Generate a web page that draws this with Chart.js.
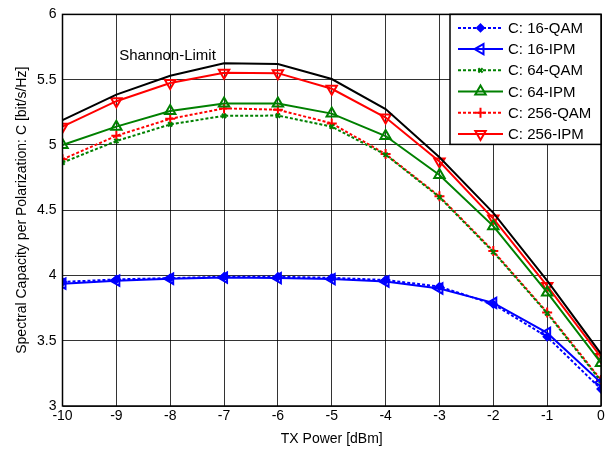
<!DOCTYPE html>
<html>
<head>
<meta charset="utf-8">
<script src="https://cdn.jsdelivr.net/npm/chart.js@4"></script>
<style>
html,body{margin:0;padding:0;background:#fff;}
#wrap{width:610px;height:450px;position:relative;}
</style>
</head>
<body>
<div id="wrap"><canvas id="c" width="610" height="450"></canvas></div>
<script>
const txPower = [-10, -9, -8, -7, -6, -5, -4, -3, -2, -1, 0];
const shannon = [5.19, 5.385, 5.53, 5.625, 5.62, 5.505, 5.275, 4.905, 4.48, 3.96, 3.40];
const qam16 = [3.95, 3.97, 3.98, 3.99, 3.99, 3.982, 3.965, 3.915, 3.78, 3.53, 3.13];
const ipm16 = [3.937, 3.96, 3.975, 3.984, 3.98, 3.972, 3.954, 3.90, 3.79, 3.56, 3.18];
const qam64 = [4.865, 5.03, 5.157, 5.223, 5.225, 5.14, 4.925, 4.60, 4.18, 3.71, 3.19];
const ipm64 = [5.0, 5.14, 5.26, 5.317, 5.317, 5.24, 5.068, 4.77, 4.378, 3.87, 3.33];
const qam256 = [4.89, 5.07, 5.2, 5.28, 5.27, 5.165, 4.93, 4.606, 4.187, 3.717, 3.2];
const ipm256 = [5.14, 5.335, 5.475, 5.553, 5.55, 5.43, 5.21, 4.873, 4.436, 3.92, 3.375];
const yTicks = [3, 3.5, 4, 4.5, 5, 5.5, 6];
const xTicks = [-10, -9, -8, -7, -6, -5, -4, -3, -2, -1, 0];
const shannonLabel = {text: 'Shannon-Limit', x: -8.05, y: 5.68};

const FONT = "'Liberation Sans', Arial, sans-serif";
const pts = arr => arr.map((v, i) => ({x: txPower[i], y: v}));

function ds(label, data, color, dashed, style, rot, filled, radius) {
  return {
    label: label, data: pts(data), borderColor: color, backgroundColor: filled ? color : 'rgba(0,0,0,0)',
    borderWidth: 2, borderDash: dashed ? [3, 2] : [], pointStyle: style, pointRotation: rot,
    pointRadius: radius, pointBorderWidth: 2, pointBorderColor: color, pointBackgroundColor: filled ? color : 'rgba(0,0,0,0)',
    tension: 0, fill: false, showInLegend: true
  };
}

const datasets = [
  {label: 'Shannon', data: pts(shannon), borderColor: '#000', borderWidth: 2, pointRadius: 0, fill: false, showInLegend: false},
  ds('C: 16-QAM', qam16, '#0000ff', true, 'rectRot', 0, true, 3.5),
  ds('C: 16-IPM', ipm16, '#0000ff', false, 'triangle', -90, false, 6),
  ds('C: 64-QAM', qam64, '#008000', true, 'crossRot', 0, false, 3),
  ds('C: 64-IPM', ipm64, '#008000', false, 'triangle', 0, false, 6),
  ds('C: 256-QAM', qam256, '#ff0000', true, 'cross', 0, false, 5),
  ds('C: 256-IPM', ipm256, '#ff0000', false, 'triangle', 180, false, 6)
];

const decor = {
  id: 'decor',
  afterDraw(chart) {
    const ctx = chart.ctx, a = chart.chartArea;
    const xs = chart.scales.x, ys = chart.scales.y;
    ctx.save();
    ctx.strokeStyle = '#000'; ctx.lineWidth = 1.5; ctx.setLineDash([]);
    ctx.strokeRect(a.left, a.top, a.right - a.left, a.bottom - a.top);
    ctx.fillStyle = '#000'; ctx.font = '15px ' + FONT;
    ctx.textAlign = 'center'; ctx.textBaseline = 'middle';
    ctx.fillText(shannonLabel.text, xs.getPixelForValue(shannonLabel.x), ys.getPixelForValue(shannonLabel.y));
    const items = chart.data.datasets.filter(d => d.showInLegend);
    const bw = 151, rowH = 21.2, bh = 130;
    const bx = a.right - bw, by = a.top;
    ctx.fillStyle = '#fff'; ctx.fillRect(bx, by, bw, bh);
    ctx.strokeStyle = '#000'; ctx.lineWidth = 1.5; ctx.strokeRect(bx, by, bw, bh);
    items.forEach((d, i) => {
      const cy = by + 13.5 + i * rowH;
      ctx.strokeStyle = d.borderColor; ctx.lineWidth = 2; ctx.setLineDash(d.borderDash);
      ctx.beginPath(); ctx.moveTo(bx + 8, cy); ctx.lineTo(bx + 53, cy); ctx.stroke();
      ctx.setLineDash([]);
      ctx.fillStyle = d.pointBackgroundColor; ctx.strokeStyle = d.borderColor;
      Chart.helpers.drawPoint(ctx, {pointStyle: d.pointStyle, radius: d.pointRadius, rotation: d.pointRotation, borderWidth: 2}, bx + 30.5, cy);
      ctx.fillStyle = '#000'; ctx.font = '15px ' + FONT; ctx.textAlign = 'left'; ctx.textBaseline = 'middle';
      ctx.fillText(d.label, bx + 58, cy + 1);
    });
    ctx.restore();
  }
};

new Chart(document.getElementById('c'), {
  type: 'line',
  data: {datasets: datasets},
  options: {
    responsive: false, animation: false, events: [],
    layout: {padding: {top: 12, right: 9, left: 0, bottom: 0}},
    plugins: {legend: {display: false}, tooltip: {enabled: false}},
    scales: {
      x: {
        type: 'linear', min: -10, max: 0,
        afterBuildTicks: s => { s.ticks = xTicks.map(v => ({value: v})); },
        afterFit: s => { s.height = 44; },
        grid: {color: 'rgba(0,0,0,0.8)', lineWidth: 1, drawTicks: false},
        border: {display: false},
        ticks: {color: '#000', font: {family: FONT, size: 14}, padding: 2, maxRotation: 0, callback: v => String(v)},
        title: {display: true, text: 'TX Power [dBm]', color: '#000', font: {family: FONT, size: 14}, padding: {top: 0, bottom: 2}}
      },
      y: {
        type: 'linear', min: 3, max: 6,
        afterBuildTicks: s => { s.ticks = yTicks.map(v => ({value: v})); },
        afterFit: s => { s.width = 62.5; },
        grid: {color: 'rgba(0,0,0,0.8)', lineWidth: 1, drawTicks: false},
        border: {display: false},
        ticks: {color: '#000', font: {family: FONT, size: 14}, padding: 6, callback: v => String(v)},
        title: {display: true, text: 'Spectral Capacity per Polarization: C [bit/s/Hz]', color: '#000', font: {family: FONT, size: 14}, padding: {top: 14, bottom: 0}}
      }
    }
  },
  plugins: [decor]
});
</script>
</body>
</html>
